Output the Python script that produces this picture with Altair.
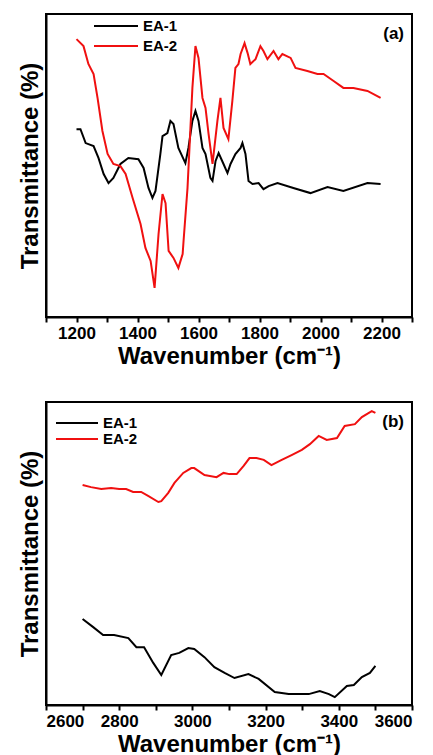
import altair as alt
import pandas as pd

SERIES = ["EA-1", "EA-2"]
COLORS = ["#000000", "#f01010"]

# Panel (a): 1200-2200 cm-1 (transmittance in arbitrary units)
A_WN_EA1 = [1200, 1213, 1230, 1256, 1272, 1289, 1305, 1321, 1344, 1370, 1403, 1420, 1436,
            1449, 1459, 1475, 1482, 1498, 1508, 1518, 1534, 1557, 1567, 1580, 1590, 1600,
            1613, 1623, 1639, 1646, 1656, 1666, 1682, 1695, 1705, 1721, 1738, 1744, 1754,
            1764, 1777, 1797, 1813, 1830, 1859, 1911, 1967, 2023, 2075, 2154, 2197]
A_T_EA1 = [62.0, 62.0, 57.4, 56.4, 52.5, 47.2, 44.2, 45.9, 50.5, 52.5, 52.1, 49.2, 42.6,
           39.3, 41.6, 53.8, 59.7, 60.7, 64.7, 63.7, 55.8, 50.8, 55.8, 64.7, 68.0, 64.7,
           55.8, 53.8, 45.9, 44.9, 51.5, 54.1, 50.5, 47.5, 50.5, 53.8, 55.8, 57.4, 53.8,
           44.9, 43.9, 44.2, 42.2, 43.2, 44.2, 42.6, 40.9, 42.9, 41.6, 44.2, 43.9]
A_WN_EA2 = [1200, 1223, 1239, 1256, 1269, 1285, 1302, 1321, 1344, 1361, 1384, 1410, 1426,
            1443, 1456, 1469, 1482, 1492, 1502, 1518, 1534, 1548, 1551, 1564, 1580, 1590,
            1600, 1613, 1623, 1633, 1646, 1662, 1672, 1682, 1698, 1711, 1721, 1731, 1738,
            1751, 1761, 1770, 1787, 1803, 1813, 1826, 1846, 1862, 1875, 1902, 1918, 1957,
            1990, 2010, 2043, 2075, 2108, 2154, 2197]
A_T_EA2 = [91.7, 89.4, 83.5, 80.2, 72.3, 61.4, 53.8, 50.5, 49.8, 47.2, 39.3, 30.7, 22.8,
           18.5, 9.6, 27.4, 40.6, 37.6, 21.8, 19.5, 16.2, 20.8, 25.1, 42.6, 75.6, 89.4,
           85.5, 72.3, 69.0, 60.4, 50.5, 64.7, 72.3, 62.4, 58.7, 71.3, 82.2, 83.5, 86.8,
           90.4, 87.1, 83.5, 85.1, 89.4, 87.8, 85.1, 87.8, 85.1, 86.8, 85.5, 82.2, 81.2,
           80.2, 80.2, 77.9, 75.6, 75.6, 74.6, 72.3]

# Panel (b): 2700-3500 cm-1
B_WN_EA1 = [2700, 2729, 2756, 2786, 2825, 2847, 2868, 2893, 2915, 2942, 2964, 2989, 3005,
            3033, 3060, 3088, 3115, 3153, 3181, 3225, 3263, 3318, 3348, 3373, 3389, 3422,
            3441, 3463, 3485, 3500]
B_T_EA1 = [28.4, 25.7, 23.1, 23.1, 22.1, 19.1, 19.1, 13.9, 9.9, 16.5, 17.2, 18.8, 18.5,
           15.8, 12.5, 10.6, 8.9, 10.2, 8.6, 4.3, 3.6, 3.6, 4.6, 3.6, 2.6, 6.3,
           6.6, 9.2, 10.6, 12.9]
B_WN_EA2 = [2700, 2723, 2751, 2778, 2800, 2819, 2838, 2860, 2879, 2907, 2915, 2934, 2951,
            2975, 2997, 3005, 3033, 3066, 3085, 3101, 3121, 3140, 3156, 3175, 3195, 3216,
            3244, 3271, 3299, 3321, 3345, 3367, 3395, 3416, 3444, 3463, 3490, 3500]
B_T_EA2 = [72.6, 71.9, 71.3, 71.6, 71.3, 71.3, 70.3, 70.3, 69.0, 67.0, 67.3, 70.0, 73.3,
           76.6, 78.2, 78.2, 75.9, 75.2, 76.6, 76.2, 76.2, 78.9, 81.5, 81.5, 80.9, 79.2,
           80.9, 82.5, 84.2, 86.1, 88.8, 87.5, 88.1, 92.1, 92.7, 95.0, 97.0, 96.4]

A_TICKS = list(range(1100, 2301, 100))
B_TICKS = list(range(2600, 3601, 100))

FONT = "Liberation Sans"
XTITLE = "Wavenumber (cm\u207b\u00b9)"
YTITLE = "Transmittance (%)"

COLOR_SCALE = alt.Scale(domain=SERIES, range=COLORS)


def make_df(wn1, t1, wn2, t2):
    return pd.concat([
        pd.DataFrame({"wn": wn1, "t": t1, "series": SERIES[0]}),
        pd.DataFrame({"wn": wn2, "t": t2, "series": SERIES[1]}),
    ], ignore_index=True)


def panel(df, xdom, ticks, tag, lx0, lx1, ly):
    lines = alt.Chart(df).mark_line(strokeWidth=2, clip=True).encode(
        x=alt.X("wn:Q",
                scale=alt.Scale(domain=xdom, nice=False, zero=False),
                axis=alt.Axis(values=ticks, format="d",
                              labelExpr="datum.value % 200 == 0 ? datum.label : ''",
                              title=XTITLE)),
        y=alt.Y("t:Q", scale=alt.Scale(domain=[0, 100]),
                axis=alt.Axis(labels=False, ticks=False, grid=False, title=YTITLE)),
        color=alt.Color("series:N", scale=COLOR_SCALE, legend=None),
        detail="series:N",
    )
    leg_df = pd.DataFrame({"series": SERIES})
    leg_y = alt.Y("series:N", axis=None,
                  scale=alt.Scale(type="point", domain=SERIES, range=ly, padding=0))
    leg_rule = alt.Chart(leg_df).mark_rule(strokeWidth=2).encode(
        x=alt.value(lx0), x2=alt.value(lx1), y=leg_y,
        color=alt.Color("series:N", scale=COLOR_SCALE, legend=None))
    leg_text = alt.Chart(leg_df).mark_text(
        font=FONT, fontSize=15, fontWeight="bold", align="left", baseline="middle",
        color="black").encode(x=alt.value(lx1 + 5), y=leg_y, text="series:N")
    label = alt.Chart(pd.DataFrame({"tag": [tag]})).mark_text(
        font=FONT, fontSize=17, fontWeight="bold", align="right", baseline="middle",
        color="black").encode(
        text="tag:N", x=alt.value(358), y=alt.value(20))
    return alt.layer(lines, leg_rule, leg_text, label).resolve_scale(
        y="independent").properties(width=366, height=303)


pa = panel(make_df(A_WN_EA1, A_T_EA1, A_WN_EA2, A_T_EA2), [1100, 2300], A_TICKS,
           "(a)", 48, 92, [12, 32])
pb = panel(make_df(B_WN_EA1, B_T_EA1, B_WN_EA2, B_T_EA2), [2600, 3600], B_TICKS,
           "(b)", 10, 52, [21, 37])

chart = alt.vconcat(pa, pb, spacing=32).properties(
    padding={"left": 17, "top": 13, "right": 5, "bottom": 2}
).configure_view(stroke="black", strokeWidth=2).configure_axis(
    domainColor="black", domainWidth=2, tickColor="black", tickWidth=2, tickSize=5,
    labelFont=FONT, labelFontSize=17, labelFontWeight="bold", labelColor="black",
    labelPadding=3, titleFont=FONT, titleFontSize=24, titleFontWeight="bold",
    titleColor="black", grid=False
).configure_axisX(titlePadding=3).configure_axisY(titlePadding=4)

chart.save("out.html", embed_options={"renderer": "svg", "actions": False})
